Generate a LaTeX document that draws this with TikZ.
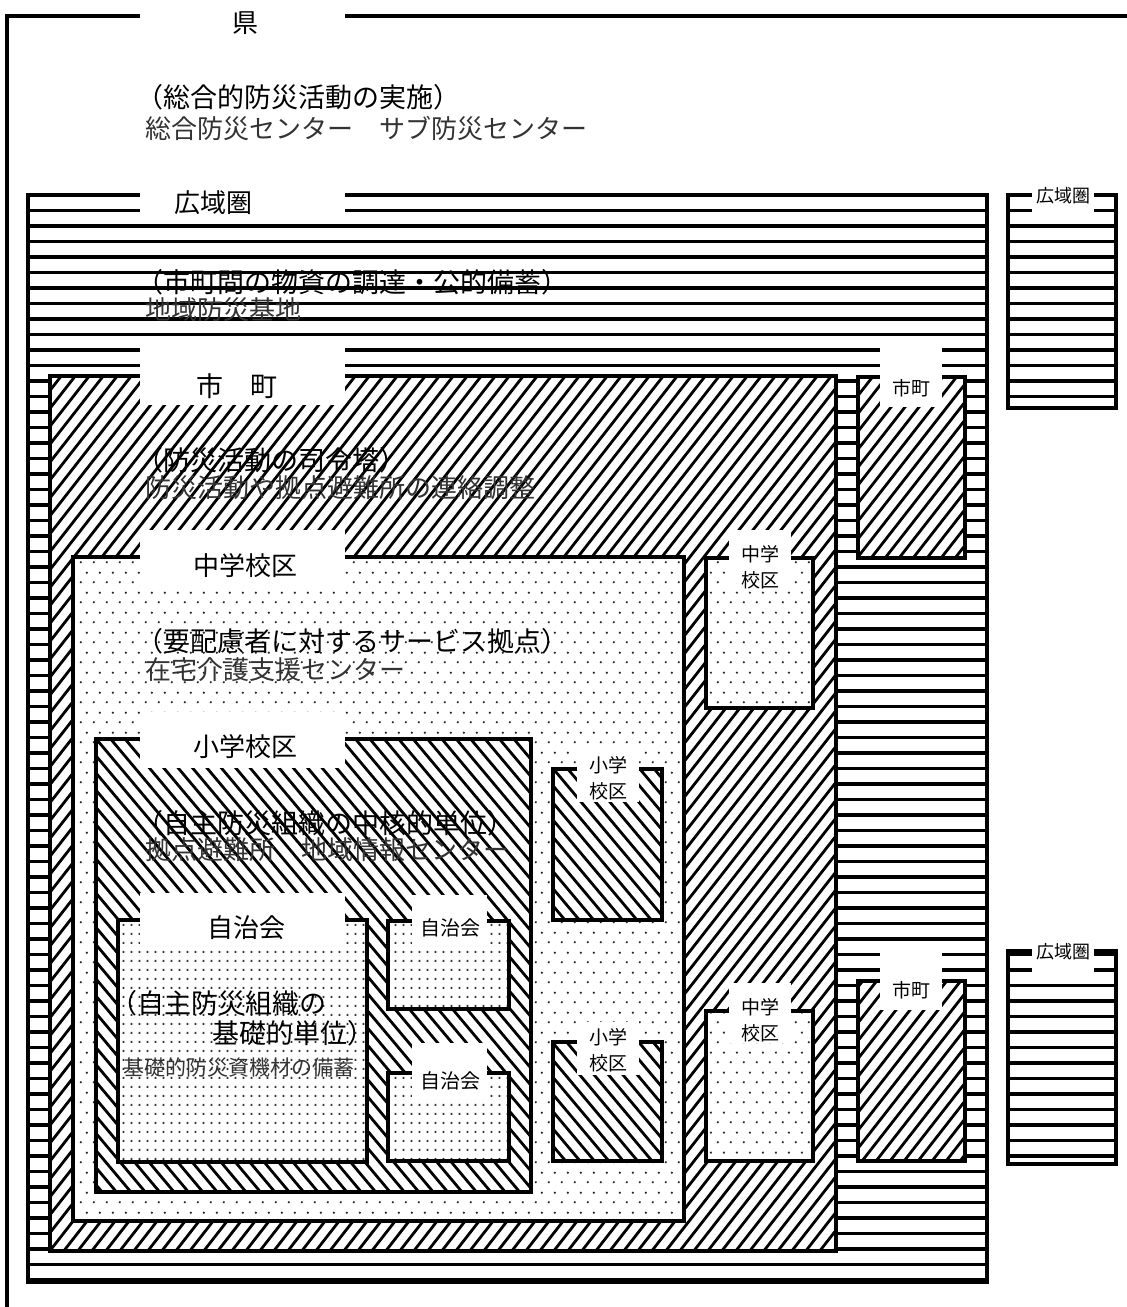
\documentclass[tikz,border=0pt]{standalone}
\usepackage{fontspec}
\setmainfont{Noto Sans CJK JP}
\usetikzlibrary{patterns}
\pgfdeclarepatternformonly{middots}{\pgfpointorigin}{\pgfpoint{13pt}{20pt}}{\pgfpoint{13pt}{20pt}}{%
  \pgfpathcircle{\pgfpoint{3pt}{5pt}}{1.3pt}%
  \pgfpathcircle{\pgfpoint{9.5pt}{15pt}}{1.3pt}%
  \pgfusepath{fill}}
\pgfdeclarepatternformonly{densedots}{\pgfpointorigin}{\pgfpoint{8pt}{9pt}}{\pgfpoint{8pt}{9pt}}{%
  \pgfpathrectangle{\pgfpoint{3pt}{3.5pt}}{\pgfpoint{2pt}{2.2pt}}%
  \pgfusepath{fill}}
\tikzset{
  bx/.style={line width=4pt},
  wfill/.style={fill=white},
  hl/.style={line width=3.6pt},
  dl/.style={line width=2.8pt},
  chu/.style={pattern=middots, pattern color=black!85},
  jichi/.style={pattern=densedots, pattern color=black!80},
  gap/.style={fill=white, draw=none},
  head/.style={font=\fontsize{26}{26}\selectfont, inner sep=0pt},
  gtxt/.style={font=\fontsize{27}{27}\selectfont, anchor=west, inner sep=0pt},
  mtxt/.style={font=\fontsize{26}{26}\selectfont, anchor=west, inner sep=0pt, text=black!80},
  stxt/.style={font=\fontsize{21}{21}\selectfont, anchor=west, inner sep=0pt, text=black!80},
  slab/.style={font=\fontsize{19}{26}\selectfont, inner sep=0pt, align=center},
}
% horizontal-line box
\newcommand\kouikiBox[4]{%
  \fill[wfill] (#1,#2) rectangle (#3,#4);
  \begin{scope}\clip (#1,#2) rectangle (#3,#4);
    \foreach \yy in {195,210.5,...,1300} \draw[hl] (#1,\yy) -- (#3,\yy);
  \end{scope}
  \draw[bx] (#1,#2) rectangle (#3,#4);}
% forward hatch  /
\newcommand\shichoBox[4]{%
  \fill[wfill] (#1,#2) rectangle (#3,#4);
  \begin{scope}\clip (#1,#2) rectangle (#3,#4);
    \foreach \cc in {-1030,-1016,...,1130} \draw[dl] (\cc,1307) -- ++(1021,-1307);
  \end{scope}
  \draw[bx] (#1,#2) rectangle (#3,#4);}
% backward hatch  \
\newcommand\shoBox[4]{%
  \fill[wfill] (#1,#2) rectangle (#3,#4);
  \begin{scope}\clip (#1,#2) rectangle (#3,#4);
    \foreach \cc in {-1100,-1085.6,...,1130} \draw[dl] (\cc,0) -- ++(1097,1307);
  \end{scope}
  \draw[bx] (#1,#2) rectangle (#3,#4);}
\newcommand\chuBox[4]{%
  \fill[wfill] (#1,#2) rectangle (#3,#4);
  \fill[chu] (#1,#2) rectangle (#3,#4);
  \draw[bx] (#1,#2) rectangle (#3,#4);}
\newcommand\jichiBox[4]{%
  \fill[wfill] (#1,#2) rectangle (#3,#4);
  \fill[jichi] (#1,#2) rectangle (#3,#4);
  \draw[bx] (#1,#2) rectangle (#3,#4);}
\begin{document}
\begin{tikzpicture}[x=1pt,y=-1pt]
\useasboundingbox (0,0) rectangle (1127,1307);
% ---------- 県 ----------
\draw[line width=4pt] (1127,16) -- (7,16) -- (7,1307);
\fill[gap] (140,0) rectangle (345,40);
\node[head] (ken) at (245,23) {県};
\node[gtxt] (kenA) at (136,97) {（総合的防災活動の実施）};
\node[mtxt] (kenB) at (145,128) {総合防災センター　サブ防災センター};
% ---------- 広域圏 ----------
\kouikiBox{28}{195}{987}{1282}
\fill[gap] (140,186) rectangle (345,222);
\node[head] (kou) at (213,203) {広域圏};
\node[gtxt] (kouA) at (136,282) {（市町間の物資の調達・公的備蓄）};
\node[mtxt] (kouB) at (145,310) {地域防災基地};
% small 広域圏 boxes
\kouikiBox{1008}{195}{1116}{408}
\fill[gap] (1032,184) rectangle (1094,218);
\node[slab,font=\fontsize{18}{20}\selectfont] (kouS1) at (1063,196) {広域圏};
\kouikiBox{1008}{951}{1116}{1164}
\fill[gap] (1032,940) rectangle (1094,972);
\node[slab,font=\fontsize{18}{20}\selectfont] (kouS2) at (1063,952) {広域圏};
% small 市町 boxes
\shichoBox{858}{377}{965}{558}
\fill[gap] (880,347) rectangle (942,407);
\node[slab] (shiS1) at (911,388) {市町};
\shichoBox{858}{981}{965}{1161}
\fill[gap] (880,950) rectangle (942,1010);
\node[slab] (shiS2) at (911,990) {市町};
% ---------- 市町 ----------
\shichoBox{50}{376}{836}{1251}
\fill[gap] (140,348) rectangle (345,405);
\node[head,font=\fontsize{27}{27}\selectfont] (shi) at (237,386) {市　町};
\node[gtxt] (shiA) at (136,460) {（防災活動の司令塔）};
\node[mtxt] (shiB) at (145,488) {防災活動や拠点避難所の連絡調整};
% small 中学校区 boxes
\chuBox{706}{558}{813}{708}
\fill[gap] (729,530) rectangle (791,590);
\node[slab] (chuS1) at (760,567) {中学\\校区};
\chuBox{706}{1011}{813}{1161}
\fill[gap] (729,983) rectangle (791,1043);
\node[slab] (chuS2) at (760,1020) {中学\\校区};
% ---------- 中学校区 ----------
\chuBox{73}{557}{684}{1221}
\fill[gap] (140,530) rectangle (345,587);
\node[head] (chu) at (245,566) {中学校区};
\node[gtxt] (chuA) at (136,641) {（要配慮者に対するサービス拠点）};
\node[mtxt] (chuB) at (145,670) {在宅介護支援センター};
% small 小学校区 boxes
\shoBox{553}{769}{662}{920}
\fill[gap] (577,750) rectangle (639,802);
\node[slab] (shoS1) at (608,778) {小学\\校区};
\shoBox{553}{1042}{662}{1161}
\fill[gap] (577,1022) rectangle (639,1075);
\node[slab] (shoS2) at (608,1050) {小学\\校区};
% ---------- 小学校区 ----------
\shoBox{96}{739}{531}{1192}
\fill[gap] (140,712) rectangle (345,768);
\node[head] (sho) at (245,747) {小学校区};
\node[gtxt] (shoA) at (136,823) {（自主防災組織の中核的単位）};
\node[mtxt] (shoB) at (145,850) {拠点避難所　地域情報センター};
% small 自治会 boxes
\jichiBox{388}{921}{509}{1009}
\fill[gap] (412,895) rectangle (487,945);
\node[slab,font=\fontsize{20}{22}\selectfont] (jiS1) at (450,928) {自治会};
\jichiBox{388}{1073}{509}{1161}
\fill[gap] (412,1043) rectangle (487,1097);
\node[slab,font=\fontsize{20}{22}\selectfont] (jiS2) at (450,1081) {自治会};
% ---------- 自治会 ----------
\jichiBox{118}{920}{367}{1162}
\fill[gap] (140,893) rectangle (345,950);
\node[head] (ji) at (246,928) {自治会};
\node[gtxt] (jiA) at (110,1003) {（自主防災組織の};
\node[gtxt] (jiB) at (212,1033) {基礎的単位）};
\node[stxt] (jiC) at (123,1068) {基礎的防災資機材の備蓄};
\end{tikzpicture}
\end{document}
